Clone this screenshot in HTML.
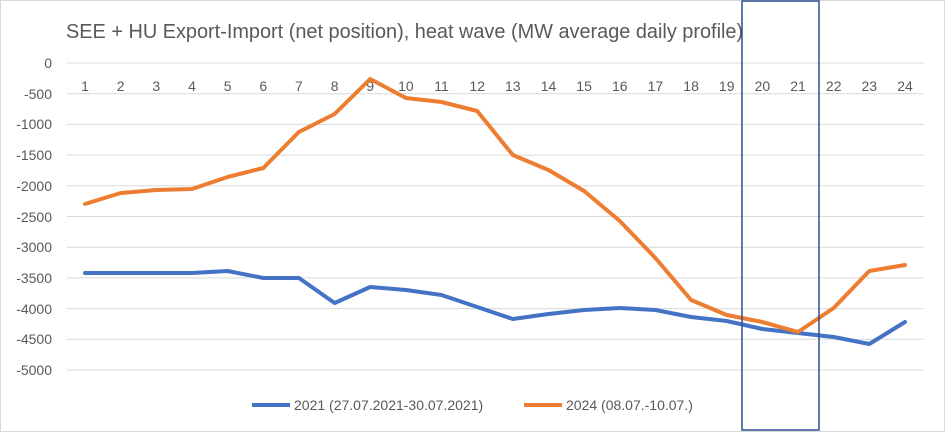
<!DOCTYPE html>
<html><head><style>body{margin:0;background:#fff}svg{display:block}</style></head><body>
<svg width="945" height="432" xmlns="http://www.w3.org/2000/svg" font-family="Liberation Sans, sans-serif">
<rect x="0.5" y="0.5" width="944" height="431" fill="#fff" stroke="#d9d9d9"/>
<text x="66" y="38" font-size="19.9" fill="#595959">SEE + HU Export-Import (net position), heat wave (MW average daily profile)</text>
<g stroke="#d9d9d9" stroke-width="1">
<line x1="67" x2="924" y1="63" y2="63"/><line x1="67" x2="924" y1="93.7" y2="93.7"/><line x1="67" x2="924" y1="124.4" y2="124.4"/><line x1="67" x2="924" y1="155.1" y2="155.1"/><line x1="67" x2="924" y1="185.8" y2="185.8"/><line x1="67" x2="924" y1="216.5" y2="216.5"/><line x1="67" x2="924" y1="247.2" y2="247.2"/><line x1="67" x2="924" y1="277.9" y2="277.9"/><line x1="67" x2="924" y1="308.6" y2="308.6"/><line x1="67" x2="924" y1="339.3" y2="339.3"/><line x1="67" x2="924" y1="370" y2="370"/>
</g>
<g font-size="14" fill="#595959" text-anchor="end">
<text x="52" y="68">0</text><text x="52" y="99">-500</text><text x="52" y="129">-1000</text><text x="52" y="160">-1500</text><text x="52" y="191">-2000</text><text x="52" y="222">-2500</text><text x="52" y="252">-3000</text><text x="52" y="283">-3500</text><text x="52" y="314">-4000</text><text x="52" y="344">-4500</text><text x="52" y="375">-5000</text>
</g>
<g font-size="14" fill="#595959" text-anchor="middle">
<text x="85" y="91">1</text><text x="120.7" y="91">2</text><text x="156.3" y="91">3</text><text x="192" y="91">4</text><text x="227.6" y="91">5</text><text x="263.3" y="91">6</text><text x="298.9" y="91">7</text><text x="334.6" y="91">8</text><text x="370.2" y="91">9</text><text x="405.9" y="91">10</text><text x="441.5" y="91">11</text><text x="477.2" y="91">12</text><text x="512.8" y="91">13</text><text x="548.5" y="91">14</text><text x="584.1" y="91">15</text><text x="619.8" y="91">16</text><text x="655.4" y="91">17</text><text x="691.1" y="91">18</text><text x="726.7" y="91">19</text><text x="762.4" y="91">20</text><text x="798" y="91">21</text><text x="833.7" y="91">22</text><text x="869.3" y="91">23</text><text x="905" y="91">24</text>
</g>
<polyline fill="none" stroke="#4472c4" stroke-width="4" stroke-linejoin="round" stroke-linecap="round" points="85,273 120.7,273 156.3,273 192,273 227.6,271 263.3,278 298.9,278 334.6,303 370.2,287 405.9,290 441.5,295 477.2,307 512.8,319 548.5,314 584.1,310 619.8,308 655.4,310 691.1,317 726.7,321 762.4,329 798,333 833.7,337 869.3,344 905,322"/>
<polyline fill="none" stroke="#ed7d31" stroke-width="4" stroke-linejoin="round" stroke-linecap="round" points="85,204 120.7,193 156.3,190 192,189 227.6,177 263.3,168 298.9,132 334.6,114 370.2,79 405.9,98 441.5,102 477.2,111 512.8,155 548.5,170 584.1,191 619.8,221 655.4,258 691.1,300 726.7,315 762.4,322 798,332 833.7,308 869.3,271 905,265"/>
<rect x="742" y="1" width="77" height="429" fill="none" stroke="#2f4f8f" stroke-width="1.5"/>
<line x1="252" x2="290" y1="405" y2="405" stroke="#4472c4" stroke-width="4"/>
<text x="294" y="410" font-size="14" fill="#595959">2021 (27.07.2021-30.07.2021)</text>
<line x1="524" x2="562" y1="405" y2="405" stroke="#ed7d31" stroke-width="4"/>
<text x="566" y="410" font-size="14" fill="#595959">2024 (08.07.-10.07.)</text>
</svg>
</body></html>
